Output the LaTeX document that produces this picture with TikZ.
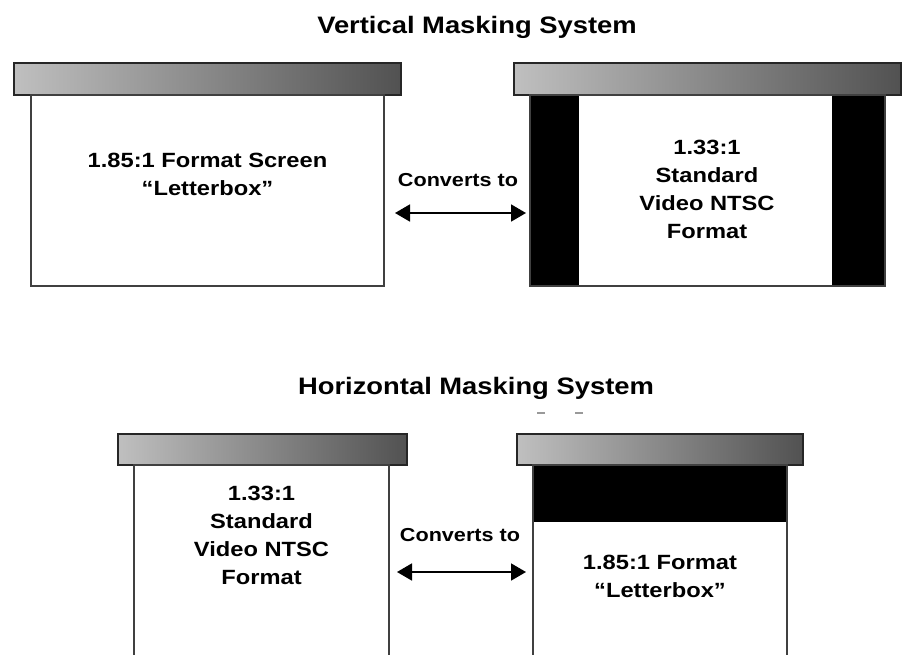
\documentclass[tikz,border=0pt]{standalone}
\usepackage{fontspec}
\setmainfont[FakeStretch=1.15]{Liberation Sans}
\usetikzlibrary{arrows.meta}
\begin{document}
\begin{tikzpicture}[x=1pt,y=-1pt,
  housing/.style={draw=black!85,line width=1.8pt,left color=black!25,right color=black!68},
  screen/.style={draw=black!75,line width=1.8pt,fill=white},
  mask/.style={fill=black,draw=none},
  title/.style={font=\bfseries\fontsize{23.8}{28}\selectfont},
  label/.style={font=\bfseries\fontsize{20.6}{28}\selectfont,align=center},
  conv/.style={font=\bfseries\fontsize{18.8}{22}\selectfont},
  link/.style={line width=1.8pt,{Triangle[length=15pt 0 0,width=17pt 0 0]}-{Triangle[length=15pt 0 0,width=17pt 0 0]}}
]
\useasboundingbox (0,0) rectangle (903,654);
\clip (0,0) rectangle (903,654);

% ---------- vertical masking ----------
\node[title] (vtitle) at (477,27) {Vertical Masking System};

\path[housing] (14,63) rectangle (401,95);
\path[screen] (31,95) rectangle (384,286);
\coordinate (vl) at (384,213);

\path[housing] (514,63) rectangle (901,95);
\path[screen] (530,95) rectangle (885,286);
\path[mask] (530,95) rectangle (579,286);
\path[mask] (832,95) rectangle (885,286);
\path[draw=black!75,line width=1.8pt] (530,95) rectangle (885,286);
\coordinate (vr) at (530,213);

\node[label] (vltext) at (207.5,174) {1.85:1 Format Screen\\“Letterbox”};
\node[label] (vrtext) at (707,189) {1.33:1\\Standard\\Video NTSC\\Format};

\node[conv] (vconv) at (458,180) {Converts to};
\draw[link] ([xshift=11pt]vl) -- ([xshift=-4pt]vr);

% ---------- horizontal masking ----------
\node[title] (htitle) at (476,388) {Horizontal Masking System};
\draw[black!40,line width=1.3pt] (537,413) -- (545,413);
\draw[black!40,line width=1.3pt] (575,413) -- (583,413);

\path[housing] (118,434) rectangle (407,465);
\path[screen] (134,465) rectangle (389,670);
\coordinate (hl) at (389,572);

\path[housing] (517,434) rectangle (803,465);
\path[screen] (533,465) rectangle (787,670);
\path[mask] (533,465) rectangle (787,522);
\path[draw=black!75,line width=1.8pt] (533,465) rectangle (787,670);
\coordinate (hr) at (533,572);

\node[label] (hltext) at (261.5,535) {1.33:1\\Standard\\Video NTSC\\Format};
\node[label] (hrtext) at (660,576.5) {1.85:1 Format\\“Letterbox”};

\node[conv] (hconv) at (460,535) {Converts to};
\draw[link] ([xshift=8pt]hl) -- ([xshift=-7pt]hr);
\end{tikzpicture}
\end{document}
